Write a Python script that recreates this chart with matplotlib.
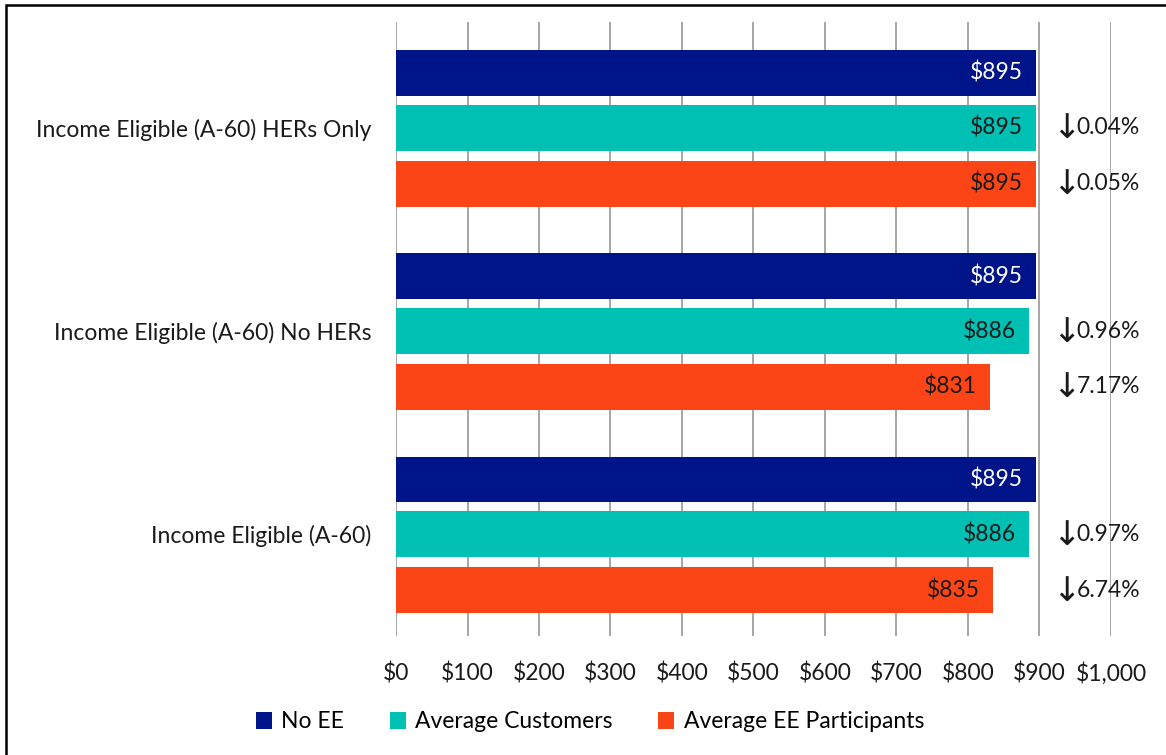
import matplotlib.pyplot as plt
from matplotlib.patches import Rectangle
import numpy as np

# data (top to bottom as shown)
categories = ["Income Eligible (A-60) HERs Only", "Income Eligible (A-60) No HERs", "Income Eligible (A-60)"]
no_ee = [895, 895, 895]
avg_customers = [895, 886, 886]
avg_ee_participants = [895, 831, 835]
avg_customers_pct = [0.04, 0.96, 0.97]
avg_ee_pct = [0.05, 7.17, 6.74]
x_ticks = [0, 100, 200, 300, 400, 500, 600, 700, 800, 900, 1000]

series_names = ["No EE", "Average Customers", "Average EE Participants"]
colors = ["#001489", "#00BFB3", "#FC4516"]
label_colors = ["white", "#1a1a1a", "#1a1a1a"]

plt.rcParams['font.family'] = ['Lato', 'DejaVu Sans']
FS = 16.5

fig = plt.figure(figsize=(11.66, 7.55), dpi=100)
ax = fig.add_axes([396/1166, 1 - 636/755, (1111-396)/1166, (636-22)/755])

y = np.arange(len(categories))
offsets = [-0.27, 0.0, 0.275]
bar_h = 0.225
all_series = [no_ee, avg_customers, avg_ee_participants]

for i, vals in enumerate(all_series):
    ypos = y + offsets[i]
    ax.barh(ypos, vals, height=bar_h, color=colors[i], label=series_names[i], zorder=3)
    for yy, v in zip(ypos, vals):
        ax.text(v - 19, yy, f"${v}", ha='right', va='center', fontsize=FS, color=label_colors[i], zorder=4)

# percent change annotations (arrow drawn separately so it gets a bigger glyph)
for ypos, pcts in [(y + offsets[1], avg_customers_pct), (y + offsets[2], avg_ee_pct)]:
    for yy, p in zip(ypos, pcts):
        ax.text(938, yy + 0.005, "\u2193", ha='center', va='center', fontsize=FS + 8, color='#1a1a1a',
                family='DejaVu Sans')
        ax.text(952, yy, f"{p:.2f}%", ha='left', va='center', fontsize=FS, color='#1a1a1a')

ax.set_xlim(0, 1000)
ax.set_ylim(2.5, -0.52)
ax.set_xticks(x_ticks)
ax.set_xticklabels([f"${t:,}" for t in x_ticks], fontsize=FS, color='#1a1a1a')
ax.set_yticks(y)
ax.set_yticklabels(categories, fontsize=FS, color='#1a1a1a')
ax.tick_params(axis='both', length=0)
ax.tick_params(axis='x', pad=19)
ax.tick_params(axis='y', pad=18)
for s in ax.spines.values():
    s.set_visible(False)
ax.grid(axis='x', color='#A6A6A6', linewidth=1.4, zorder=0)
ax.set_axisbelow(True)

handles, labels = ax.get_legend_handles_labels()
fig.legend(handles, labels, loc='center', bbox_to_anchor=(0.506, 1 - 722/755), ncol=3,
           frameon=False, fontsize=FS, handlelength=0.7, handleheight=0.7,
           columnspacing=2.0, handletextpad=0.4)

# outer frame
fig.patches.append(Rectangle((6/1166, -0.1), 1.2, 1 - 5/755 + 0.1, transform=fig.transFigure,
                             fill=False, edgecolor='black', linewidth=1.8))

fig.savefig("out.png", dpi=100)
